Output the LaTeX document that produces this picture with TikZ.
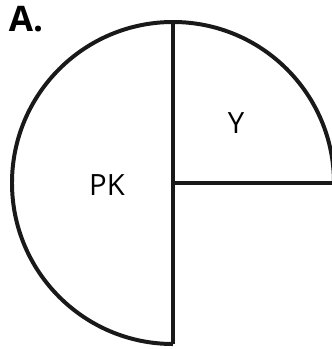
\documentclass[tikz,border=0pt]{standalone}
\usepackage{fontspec}
\setmainfont{Open Sans}
\usepackage{tikz}
\usetikzlibrary{positioning}

\begin{document}
\begin{tikzpicture}[
    x=0.03cm, y=-0.03cm,
    arcline/.style={line width=3.4pt, black!90},
    cutline/.style={line width=2.6pt, black!90},
    lbl/.style={font=\fontsize{25}{25}\selectfont, inner sep=0pt},
    tag/.style={font=\fontsize{30}{30}\selectfont\bfseries, inner sep=0pt},
]
\useasboundingbox (0,0) rectangle (331,349);

% Centre of the circle
\coordinate (c) at (173,183);
\coordinate (top) at (173,22);
\coordinate (bot) at (173,344);
\coordinate (east) at (334,183);

% Outline
\draw[arcline] (top) arc[start angle=90, end angle=270, radius=4.83cm];
\draw[arcline] (top) arc[start angle=90, end angle=0, radius=4.83cm];

% Cuts
\draw[cutline] (top) -- (bot);
\draw[cutline] (c) -- (east);

% Labels
\node[tag] (panel) at (26,19) {A.};
\node[lbl] (pk) at (107,185) {PK};
\node[lbl] (y) at (236,123) {Y};
\end{tikzpicture}
\end{document}
